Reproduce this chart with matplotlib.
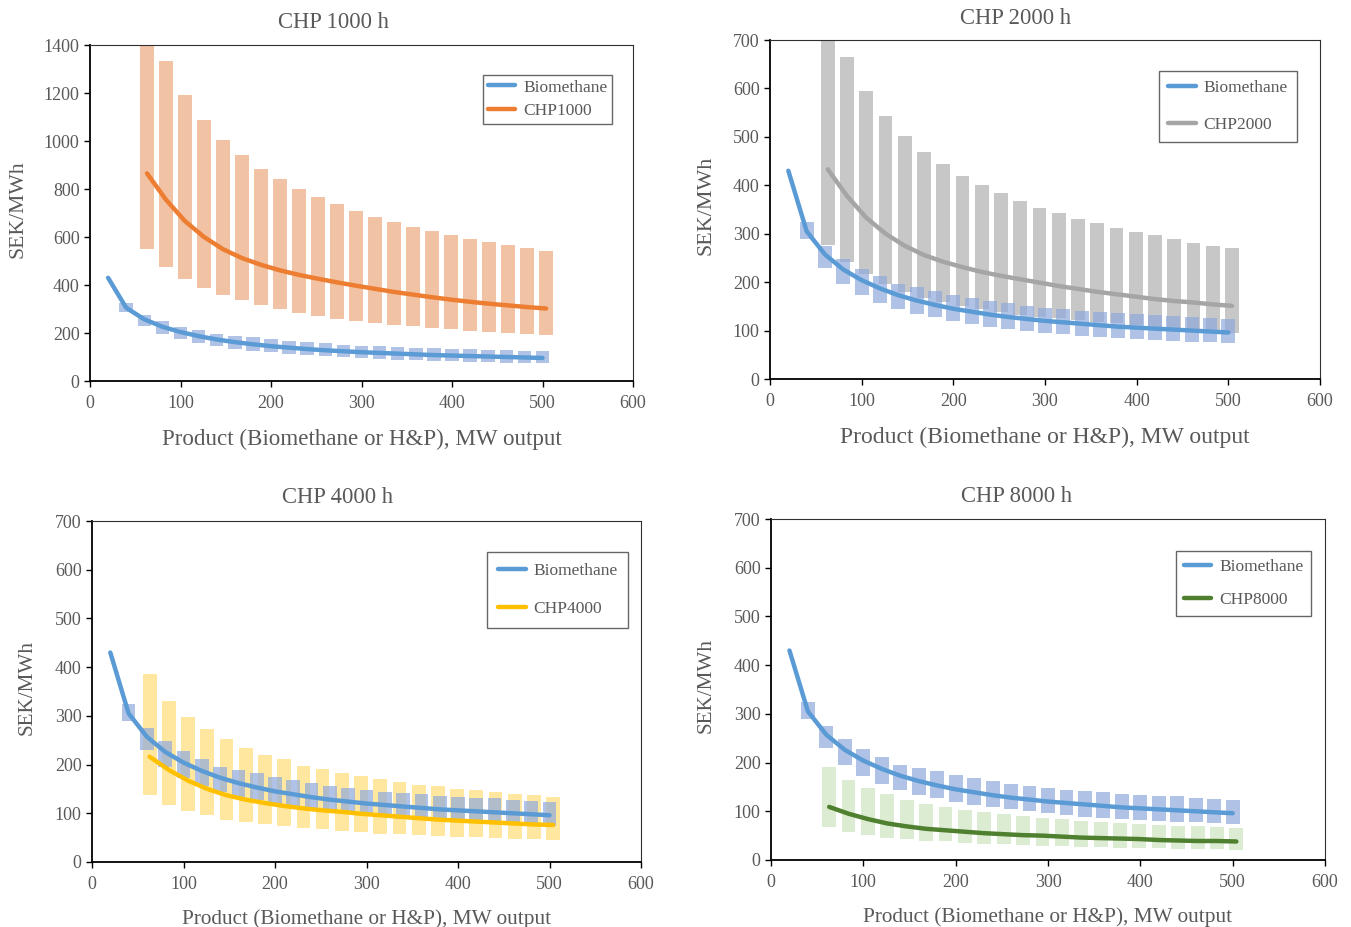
import matplotlib
matplotlib.use("Agg")
import matplotlib.pyplot as plt

plt.rcParams['font.family'] = ['Liberation Serif', 'DejaVu Serif']

# ---------------- data ----------------
bio_x = [20, 40, 60, 80, 100, 120, 140, 160, 180, 200, 220, 240, 260, 280, 300,
         320, 340, 360, 380, 400, 420, 440, 460, 480, 500]
bio_line = [430, 305, 257, 226, 204, 187, 173, 162, 153, 145, 139, 133, 128, 124, 120,
            117, 114, 111, 108, 106, 104, 102, 100, 98, 96]

bio_bar_x = [40, 60, 80, 100, 120, 140, 160, 180, 200, 220, 240, 260, 280, 300,
             320, 340, 360, 380, 400, 420, 440, 460, 480, 500]
bio_bar_lo = [289, 230, 196, 173, 157, 144, 134, 127, 120, 113, 108, 104, 100, 96,
              93, 89, 87, 85, 83, 80, 78, 77, 76, 74]
bio_bar_hi = [325, 275, 248, 227, 212, 196, 189, 182, 174, 168, 162, 157, 151, 147,
              144, 141, 139, 136, 134, 132, 131, 128, 126, 124]

chp_x = [63, 84, 105, 126, 147, 168, 189, 210, 231, 252, 273, 294, 315, 336, 357,
         378, 399, 420, 441, 462, 483, 504]

chp1000_line = [865, 755, 666, 600, 549, 512, 484, 461, 442, 426, 411, 397, 384, 371,
                360, 349, 339, 330, 322, 315, 308, 302]
chp1000_lo = [552, 475, 425, 388, 357, 336, 316, 299, 284, 271, 260, 252, 242, 235,
              228, 221, 215, 208, 203, 199, 195, 190]
chp1000_hi = [1540, 1333, 1191, 1087, 1004, 940, 884, 840, 799, 767, 737, 708, 684, 662,
              642, 624, 609, 592, 580, 566, 553, 541]

chp2000_line = [433, 378, 333, 300, 275, 256, 242, 231, 221, 213, 206, 199, 192, 186,
                180, 175, 170, 165, 161, 158, 154, 151]
chp2000_lo = [276, 241, 217, 196, 179, 168, 160, 151, 144, 139, 133, 129, 125, 122,
              118, 115, 111, 108, 105, 102, 99, 96]
chp2000_hi = [770, 664, 595, 543, 502, 469, 443, 419, 400, 384, 368, 353, 343, 331,
              322, 311, 304, 297, 289, 281, 275, 270]

chp4000_line = [216, 189, 167, 150, 137, 128, 121, 115, 110, 106, 103, 99, 96, 93,
                90, 87, 85, 83, 81, 79, 77, 76]
chp4000_lo = [137, 118, 105, 96, 87, 82, 77, 73, 70, 67, 64, 62, 58, 57,
              55, 53, 52, 51, 49, 48, 47, 46]
chp4000_hi = [385, 331, 297, 272, 252, 234, 220, 211, 198, 191, 183, 176, 171, 164,
              159, 156, 150, 147, 144, 140, 137, 134]

chp8000_line = [109, 95, 84, 75, 69, 64, 61, 58, 55, 53, 51, 50, 48, 46,
                45, 44, 43, 41, 40, 39, 39, 38]
chp8000_lo = [67, 57, 51, 46, 43, 39, 38, 35, 33, 32, 31, 29, 28, 27,
              26, 25, 25, 24, 23, 23, 22, 21]
chp8000_hi = [191, 165, 147, 135, 124, 115, 109, 103, 99, 94, 91, 87, 84, 81,
              79, 76, 74, 72, 70, 69, 67, 66]

titles = ["CHP 1000 h", "CHP 2000 h", "CHP 4000 h", "CHP 8000 h"]
chp_labels = ["CHP1000", "CHP2000", "CHP4000", "CHP8000"]
y_max = [1400, 700, 700, 700]
y_step = [200, 100, 100, 100]
x_label = "Product (Biomethane or H&P), MW output"
y_label = "SEK/MWh"

# ---------------- style ----------------
W, H = 1351, 927
fig = plt.figure(figsize=(W / 100, H / 100), dpi=100)

TXT = '#595959'
BLUE = '#5B9BD5'
line_cols = ['#ED7D31', '#A5A5A5', '#FFC000', '#4E8030']
bar_cols = ['#EFB894', '#BDBDBD', '#FFD966', '#C5E0B4']
bar_alpha = [0.85, 0.85, 0.62, 0.6]
bio_bar_col = '#8FAADC'

# axes boxes in pixels: left, right, top, bottom
boxes = [(90, 633, 45, 381), (770, 1320, 40, 379),
         (92, 641, 521, 862), (771, 1325, 519, 860)]
title_pos = [(333, 22), (1016, 18), (337, 498), (1017, 496)]
ylabel_x = [18, 706, 27, 706]
xlabel_size = [16.6, 17.0, 15.3, 15.3]
ylabel_size = [15.6, 15.8, 15.2, 15.2]
legend_pos = [(0.724, 0.911), (0.707, 0.909), (0.7195, 0.909), (0.731, 0.906)]
legend_spacing = [0.43, 1.17, 1.28, 1.0]
legend_pad = [0.26, 0.53, 0.62, 0.44]

chp_data = [(chp1000_line, chp1000_lo, chp1000_hi),
            (chp2000_line, chp2000_lo, chp2000_hi),
            (chp4000_line, chp4000_lo, chp4000_hi),
            (chp8000_line, chp8000_lo, chp8000_hi)]

for i in range(4):
    l, r, t, b = boxes[i]
    ax = fig.add_axes([l / W, 1 - b / H, (r - l) / W, (b - t) / H])
    line, lo, hi = chp_data[i]

    ax.bar(chp_x, [h - q for h, q in zip(hi, lo)], bottom=lo, width=15,
           color=bar_cols[i], alpha=bar_alpha[i], linewidth=0, zorder=1)
    ax.bar(bio_bar_x, [h - q for h, q in zip(bio_bar_hi, bio_bar_lo)],
           bottom=bio_bar_lo, width=15, color=bio_bar_col, alpha=0.7,
           linewidth=0, zorder=2)

    ax.plot(bio_x, bio_line, color=BLUE, lw=3.2, solid_capstyle='round',
            solid_joinstyle='round', zorder=4, label="Biomethane")
    ax.plot(chp_x, line, color=line_cols[i], lw=3.2, solid_capstyle='round',
            solid_joinstyle='round', zorder=3, label=chp_labels[i])

    ax.set_xlim(0, 600)
    ax.set_ylim(0, y_max[i])
    ax.set_xticks(range(0, 601, 100))
    ax.set_yticks(range(0, y_max[i] + 1, y_step[i]))
    ax.tick_params(axis='both', labelsize=13, labelcolor=TXT, color='black',
                   length=4, width=1, direction='out')
    ax.tick_params(axis='x', pad=6)
    for s in ['left', 'bottom']:
        ax.spines[s].set_linewidth(1.3)
        ax.spines[s].set_color('black')
    for s in ['top', 'right']:
        ax.spines[s].set_linewidth(0.8)
        ax.spines[s].set_color('#303030')

    ax.set_xlabel(x_label, fontsize=xlabel_size[i], color=TXT, labelpad=12)

    fig.text(ylabel_x[i] / W, 1 - ((t + b) / 2 - 4) / H, y_label,
             rotation=90, fontsize=ylabel_size[i], color=TXT,
             ha='center', va='center')
    fig.text(title_pos[i][0] / W, 1 - title_pos[i][1] / H, titles[i],
             fontsize=16.3, color=TXT, ha='center', va='center')

    leg = ax.legend(loc='upper left', bbox_to_anchor=legend_pos[i],
                    fontsize=12.5, frameon=True, fancybox=False,
                    handlelength=1.6, handletextpad=0.45,
                    labelspacing=legend_spacing[i], borderpad=legend_pad[i],
                    borderaxespad=0)
    leg.get_frame().set_edgecolor('#404040')
    leg.get_frame().set_linewidth(1.0)
    for txt in leg.get_texts():
        txt.set_color(TXT)

fig.savefig("out.png", dpi=100, facecolor='white')
